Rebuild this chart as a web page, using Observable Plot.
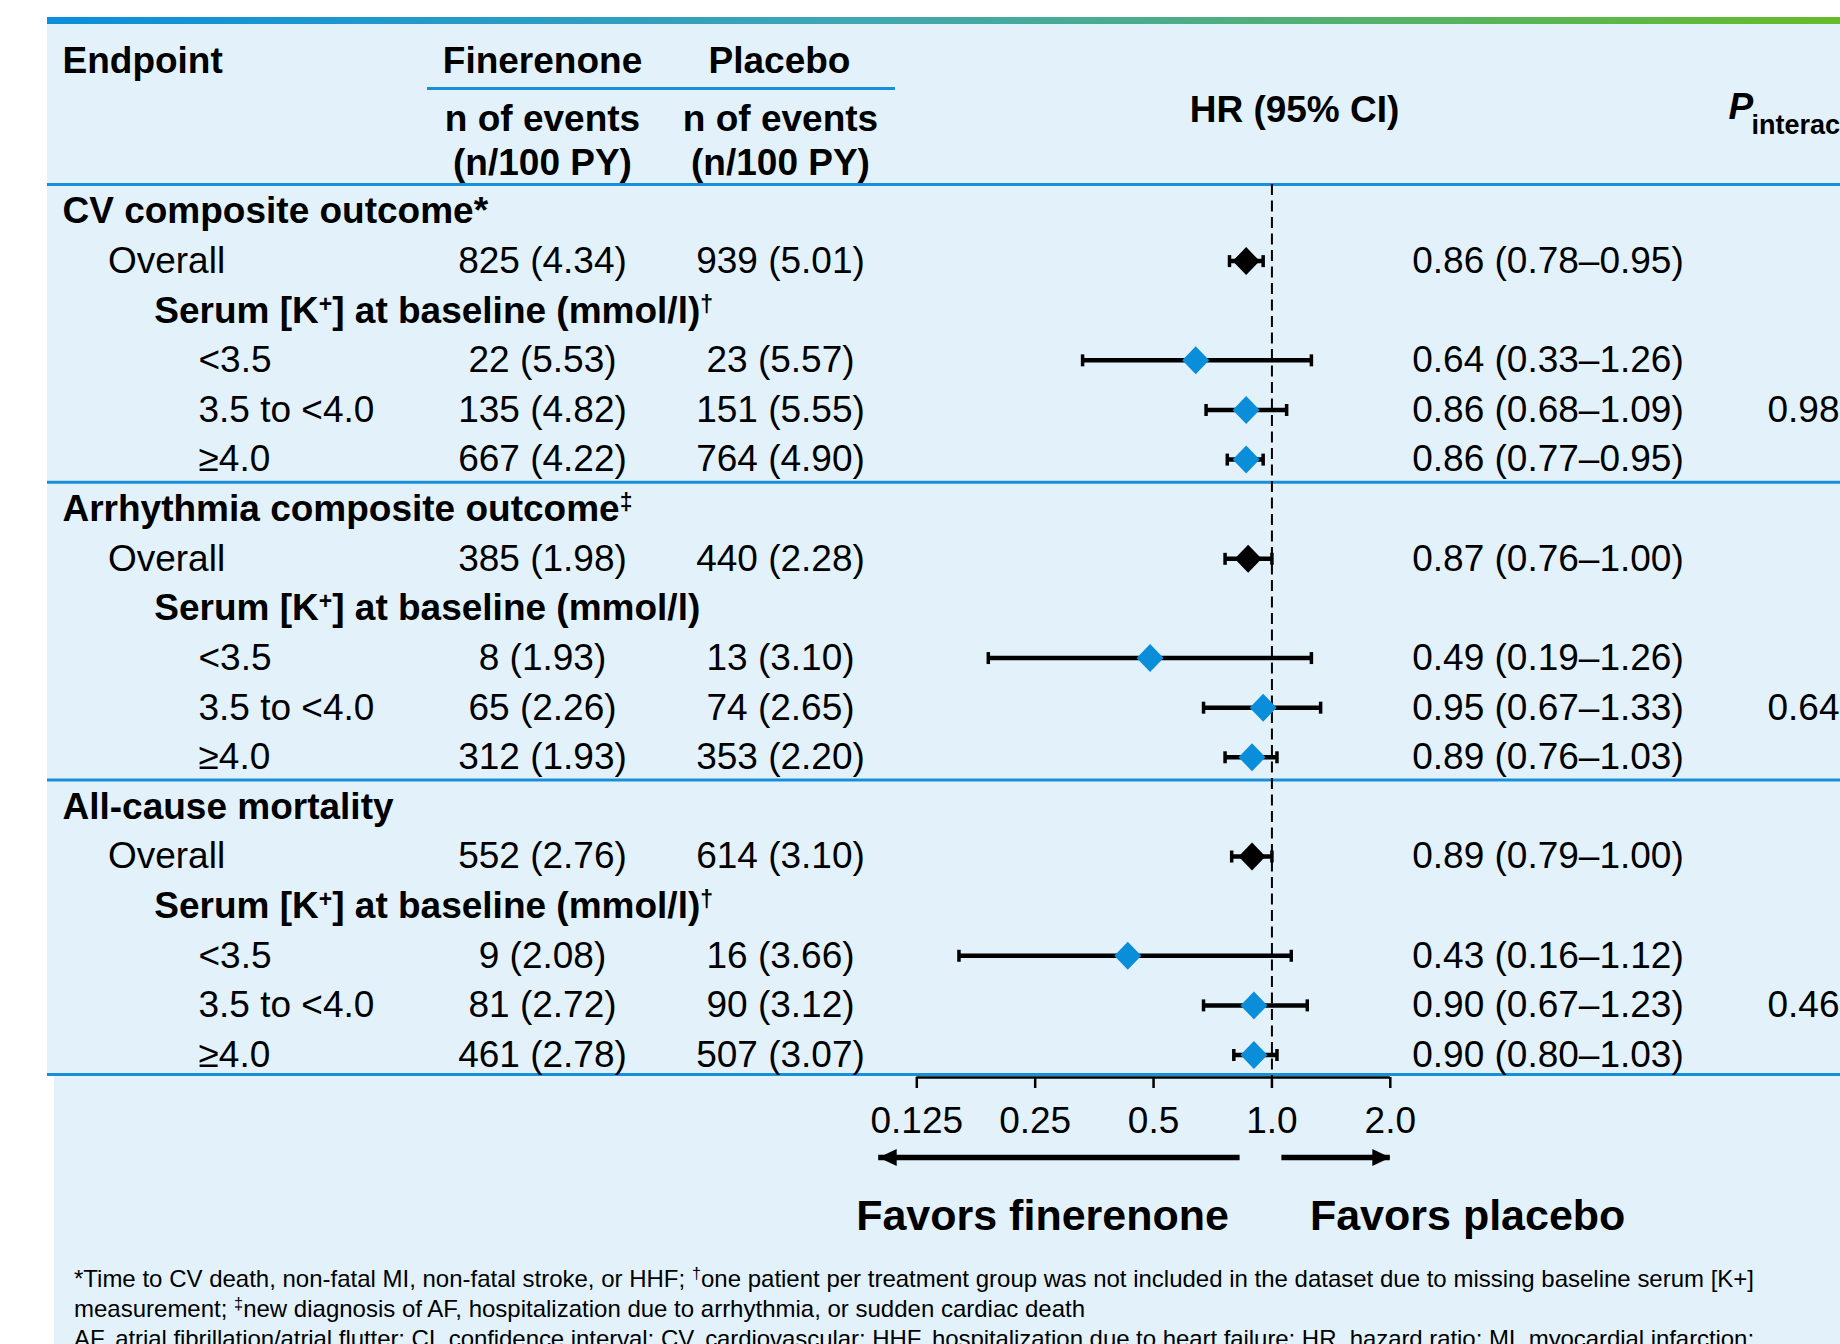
<!DOCTYPE html>
<html>
<head>
<meta charset="utf-8">
<script src="https://cdn.jsdelivr.net/npm/d3@7"></script>
<script src="https://cdn.jsdelivr.net/npm/@observablehq/plot@0.6"></script>
<style>
  html, body { margin: 0; padding: 0; }
  body { width: 1840px; height: 1344px; overflow: hidden; background: #ffffff; position: relative;
         font-family: "Liberation Sans", Arial, Helvetica, sans-serif; color: #000; }
  .abs { position: absolute; }
  #notes { position: absolute; left: 74px; top: 1265px; width: 1680px; font-size: 24px; line-height: 28px; }
  #notes div { white-space: nowrap; }
  #notes .j { text-align: justify; text-align-last: justify; }
  #notes sup { font-size: 0.68em; vertical-align: baseline; position: relative; top: -0.5em; }
</style>
</head>
<body>
<div class="abs" style="left:47px; top:17px; width:1793px; height:7px; background:linear-gradient(to right,#0a8fdc,#3fa6b4 45%,#66bc29);"></div>
<div class="abs" style="left:47px; top:24px; width:1793px; height:1051px; background:#e3f2fa;"></div>
<div class="abs" style="left:54px; top:1075px; width:1786px; height:269px; background:#e3f2fa;"></div>
<div class="abs" style="left:427px; top:87px; width:468px; height:3px; background:#1a8fd9;"></div>
<div id="chart" class="abs" style="left:0; top:0;"></div>
<div id="notes">
  <div class="j"><span>*Time to CV death, non-fatal MI, non-fatal stroke, or HHF; <sup>†</sup>one patient per treatment group was not included in the dataset due to missing baseline serum [K+]</span></div>
  <div><span>measurement; <sup>‡</sup>new diagnosis of AF, hospitalization due to arrhythmia, or sudden cardiac death</span></div>
  <div class="j"><span>AF, atrial fibrillation/atrial flutter; CI, confidence interval; CV, cardiovascular; HHF, hospitalization due to heart failure; HR, hazard ratio; MI, myocardial infarction;</span></div>
</div>
<script>
// ---------------- DATA ----------------
const rowLabels = [
  "CV composite outcome*", "Overall", "Serum [K+] at baseline (mmol/l)†", "<3.5", "3.5 to <4.0", "≥4.0",
  "Arrhythmia composite outcome‡", "Overall", "Serum [K+] at baseline (mmol/l)", "<3.5", "3.5 to <4.0", "≥4.0",
  "All-cause mortality", "Overall", "Serum [K+] at baseline (mmol/l)†", "<3.5", "3.5 to <4.0", "≥4.0"
];
const rowKinds = [
  "section", "overall", "subheader", "subgroup", "subgroup", "subgroup",
  "section", "overall", "subheader", "subgroup", "subgroup", "subgroup",
  "section", "overall", "subheader", "subgroup", "subgroup", "subgroup"
];
const finerenoneEvents = [
  null, "825 (4.34)", null, "22 (5.53)", "135 (4.82)", "667 (4.22)",
  null, "385 (1.98)", null, "8 (1.93)", "65 (2.26)", "312 (1.93)",
  null, "552 (2.76)", null, "9 (2.08)", "81 (2.72)", "461 (2.78)"
];
const placeboEvents = [
  null, "939 (5.01)", null, "23 (5.57)", "151 (5.55)", "764 (4.90)",
  null, "440 (2.28)", null, "13 (3.10)", "74 (2.65)", "353 (2.20)",
  null, "614 (3.10)", null, "16 (3.66)", "90 (3.12)", "507 (3.07)"
];
const hazardRatio = [null, 0.86, null, 0.64, 0.86, 0.86, null, 0.87, null, 0.49, 0.95, 0.89, null, 0.89, null, 0.43, 0.90, 0.90];
const ciLower     = [null, 0.78, null, 0.33, 0.68, 0.77, null, 0.76, null, 0.19, 0.67, 0.76, null, 0.79, null, 0.16, 0.67, 0.80];
const ciUpper     = [null, 0.95, null, 1.26, 1.09, 0.95, null, 1.00, null, 1.26, 1.33, 1.03, null, 1.00, null, 1.12, 1.23, 1.03];
const pInteraction = [null, null, null, null, 0.98, null, null, null, null, null, 0.64, null, null, null, null, null, 0.46, null];
const tickValues = [0.125, 0.25, 0.5, 1, 2];
const tickLabels = ["0.125", "0.25", "0.5", "1.0", "2.0"];
const headerEndpoint = "Endpoint";
const headerGroups = ["Finerenone", "Placebo"];
const headerEvents = "n of events";
const headerRate = "(n/100 PY)";
const headerHR = "HR (95% CI)";
const headerP = "P";
const headerPSub = "interaction";
const favorsLabels = ["Favors finerenone", "Favors placebo"];
const favorsArrowFrom = [0.83, 1.06];
const favorsArrowTo = [0.1, 2];
const nullEffect = 1;

// ---------------- BUILD ----------------
const rows = rowLabels.map((label, i) => ({
  i, label, kind: rowKinds[i],
  fin: finerenoneEvents[i], pla: placeboEvents[i],
  hr: hazardRatio[i], lo: ciLower[i], hi: ciUpper[i], p: pInteraction[i]
}));
const estimates = rows.filter(d => d.hr != null);
const sectionStarts = rows.filter(d => d.kind === "section").map(d => d.i);
const lastRow = rows.length - 1;
const arrows = favorsArrowFrom.map((from, k) => ({from, to: favorsArrowTo[k], dir: k === 0 ? "left" : "right"}));

// layout (pixels)
const W = 1840, H = 1250;
const L = 916.3, R = 1389.8;          // HR axis pixel range
const FT = 184, FB = 1077;            // frame top / bottom
const BLUE_LINE = "#1a8fd9", BLUE_MARK = "#0a8ed9";
const col = {section: 62, overall: 107.4, subheader: 153.8, subgroup: 198, fin: 542, pla: 780, hrText: 1411.7, p: 1767};

const diamond = {draw(c) { c.moveTo(0, -14); c.lineTo(13.5, 0); c.lineTo(0, 14); c.lineTo(-13.5, 0); c.closePath(); }};
const cap = {draw(c) { c.moveTo(0, -6); c.lineTo(0, 6); }};
const headLeft = {draw(c) { c.moveTo(0, 0); c.lineTo(18, -8.5); c.lineTo(18, 8.5); c.closePath(); }};
const headRight = {draw(c) { c.moveTo(0, 0); c.lineTo(-18, -8.5); c.lineTo(-18, 8.5); c.closePath(); }};

const fmt = v => v.toFixed(2);
const rowText = (kind, opts) => Plot.text(rows.filter(d => d.kind === kind), {
  y: "i", text: "label", frameAnchor: "left", dx: col[kind] - L, textAnchor: "start", lineAnchor: "middle", ...opts
});
const head = (txt, x, y, opts = {}) => Plot.text([txt], {
  frameAnchor: "top-left", dx: x - L, dy: y - FT, fontWeight: "bold", textAnchor: "middle", lineAnchor: "middle", ...opts
});

const chart = Plot.plot({
  width: W, height: H,
  marginLeft: L, marginRight: W - R, marginTop: FT, marginBottom: H - FB,
  style: {background: "transparent", fontFamily: "'Liberation Sans', Arial, Helvetica, sans-serif", fontSize: "37px", color: "#000", overflow: "visible"},
  x: {type: "log", base: 2, domain: [0.125, 2], ticks: tickValues,
      tickFormat: d => tickLabels[tickValues.indexOf(d)], tickSize: 11, tickPadding: 18, label: null},
  y: {domain: [0, lastRow], range: [211, 1054.5], axis: null},
  marks: [
    // section separators
    Plot.ruleY(sectionStarts, {dy: -27, stroke: BLUE_LINE, strokeWidth: 3, insetLeft: -(L - 47), insetRight: -(W - R)}),
    Plot.ruleY([lastRow], {dy: 19.5, stroke: BLUE_LINE, strokeWidth: 3, insetLeft: -(L - 47), insetRight: -(W - R)}),
    // null line
    Plot.ruleX([nullEffect], {stroke: "#000", strokeWidth: 2, strokeDasharray: "11,5.5"}),
    // axis baseline
    Plot.ruleY([lastRow], {dy: FB - 1054.5, stroke: "#000", strokeWidth: 2.5}),
    // CIs
    Plot.ruleY(estimates, {y: "i", x1: "lo", x2: "hi", stroke: "#000", strokeWidth: 4.5}),
    Plot.dot(estimates, {x: "lo", y: "i", symbol: cap, stroke: "#000", strokeWidth: 3.5, fill: "none"}),
    Plot.dot(estimates, {x: "hi", y: "i", symbol: cap, stroke: "#000", strokeWidth: 3.5, fill: "none"}),
    Plot.dot(estimates.filter(d => d.kind === "overall"), {x: "hr", y: "i", symbol: diamond, fill: "#000", stroke: "none"}),
    Plot.dot(estimates.filter(d => d.kind === "subgroup"), {x: "hr", y: "i", symbol: diamond, fill: BLUE_MARK, stroke: "none"}),
    // table text
    rowText("section", {fontWeight: "bold"}),
    rowText("overall", {}),
    rowText("subheader", {fontWeight: "bold"}),
    rowText("subgroup", {}),
    Plot.text(rows.filter(d => d.fin), {y: "i", text: "fin", frameAnchor: "left", dx: col.fin - L, textAnchor: "middle", lineAnchor: "middle"}),
    Plot.text(rows.filter(d => d.pla), {y: "i", text: "pla", frameAnchor: "left", dx: col.pla - L, textAnchor: "middle", lineAnchor: "middle"}),
    Plot.text(estimates, {y: "i", text: d => `${fmt(d.hr)} (${fmt(d.lo)}–${fmt(d.hi)})`, frameAnchor: "left", dx: col.hrText - L, textAnchor: "start", lineAnchor: "middle"}),
    Plot.text(rows.filter(d => d.p != null), {y: "i", text: d => fmt(d.p), frameAnchor: "left", dx: col.p - L, textAnchor: "start", lineAnchor: "middle"}),
    // header
    head(headerEndpoint, col.section, 60.2, {textAnchor: "start"}),
    head(headerGroups[0], col.fin, 60.2),
    head(headerGroups[1], col.pla - 1, 60.2),
    head(headerEvents, col.fin, 118.2),
    head(headerEvents, col.pla, 118.2),
    head(headerRate, col.fin, 163),
    head(headerRate, col.pla, 163),
    head(headerHR, 1294, 109.9),
    head(headerP, 1728, 106.2, {textAnchor: "start", fontStyle: "italic"}),
    head(headerPSub, 1751, 124.4, {textAnchor: "start", fontSize: 27}),
    // favors arrows & labels
    Plot.ruleY(arrows, {y: () => lastRow, x1: "from", x2: "to", dy: 1157 - 1054.5, stroke: "#000", strokeWidth: 5.5}),
    Plot.dot(arrows.filter(d => d.dir === "left"), {x: "to", y: () => lastRow, dy: 1157 - 1054.5, symbol: headLeft, fill: "#000", stroke: "none"}),
    Plot.dot(arrows.filter(d => d.dir === "right"), {x: "to", y: () => lastRow, dy: 1157 - 1054.5, symbol: headRight, fill: "#000", stroke: "none"}),
    Plot.text([favorsLabels[0]], {x: () => nullEffect, frameAnchor: "bottom", dy: 1215.6 - FB, dx: -43, textAnchor: "end", lineAnchor: "middle", fontSize: 43, fontWeight: "bold"}),
    Plot.text([favorsLabels[1]], {x: () => nullEffect, frameAnchor: "bottom", dy: 1215.6 - FB, dx: 38, textAnchor: "start", lineAnchor: "middle", fontSize: 43, fontWeight: "bold"})
  ]
});

// thicker axis ticks
chart.querySelectorAll('[aria-label^="x-axis"]').forEach(g => {
  g.querySelectorAll("path, line").forEach(el => el.setAttribute("stroke-width", 2.5));
  if (g.getAttribute("aria-label") === "x-axis tick") g.setAttribute("stroke-width", 2.5);
});
chart.querySelectorAll('[aria-label^="x-axis"] text').forEach(t => t.setAttribute("fill", "#000"));

// superscripts (+, †, ‡)
d3.select(chart).selectAll("text").each(function () {
  const s = this.textContent;
  if (!/[+†‡]/.test(s) || this.querySelector("tspan")) return;
  const parts = s.split(/([+†‡])/).filter(p => p !== "");
  this.textContent = "";
  let raised = false;
  for (const p of parts) {
    const t = document.createElementNS("http://www.w3.org/2000/svg", "tspan");
    if (/^[+†‡]$/.test(p)) { t.setAttribute("font-size", "23px"); t.setAttribute("dy", raised ? "0" : "-11"); raised = true; }
    else if (raised) { t.setAttribute("dy", "11"); raised = false; }
    t.textContent = p;
    this.appendChild(t);
  }
});

document.getElementById("chart").appendChild(chart);

// fit the justified footnote lines into the box if the natural width is larger
document.querySelectorAll("#notes .j span").forEach(span => {
  const target = 1680;
  const w = span.getBoundingClientRect().width;
  if (w > target) {
    const n = span.textContent.length;
    span.style.letterSpacing = `${-(w - target + 2) / n}px`;
  }
});
</script>
</body>
</html>
